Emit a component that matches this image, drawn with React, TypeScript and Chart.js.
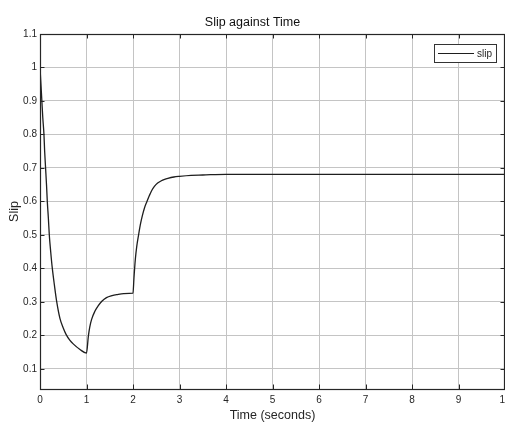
import React, { useEffect, useRef } from "react";
import { Chart, registerables } from "chart.js";

Chart.register(...registerables);

const timeSeconds = [
  0, 0.02, 0.04, 0.06, 0.085, 0.1, 0.12, 0.14, 0.157, 0.18, 0.2, 0.23, 0.265, 0.31, 0.36, 0.43, 0.5, 0.56, 0.64,
  0.72, 0.86, 1.0,
  1.04, 1.07, 1.11, 1.18, 1.25, 1.33, 1.43, 1.55, 1.65, 1.8, 2.0,
  2.02, 2.05, 2.08, 2.12, 2.16, 2.2, 2.25, 2.3, 2.35, 2.4, 2.46, 2.53, 2.6, 2.68, 2.75, 2.88, 3.0, 3.25, 3.5, 4.0,
  5.0, 6.0, 7.0, 8.0, 9.0, 10.0,
];
const slipValues = [
  1.0, 0.95, 0.9, 0.85, 0.8, 0.75, 0.7, 0.65, 0.6, 0.55, 0.5, 0.45, 0.4, 0.35, 0.3, 0.25, 0.222, 0.203, 0.186,
  0.174, 0.158, 0.147,
  0.198, 0.225, 0.248, 0.272, 0.288, 0.302, 0.313, 0.319, 0.322, 0.325, 0.326,
  0.37, 0.427, 0.465, 0.5, 0.532, 0.557, 0.582, 0.6, 0.617, 0.632, 0.645, 0.655, 0.661, 0.666, 0.669, 0.673, 0.675,
  0.678, 0.679, 0.681,
  0.681, 0.681, 0.681, 0.681, 0.681, 0.681,
];
const xTickValues = [0, 1, 2, 3, 4, 5, 6, 7, 8, 9, 10];
const yTickValues = [0.1, 0.2, 0.3, 0.4, 0.5, 0.6, 0.7, 0.8, 0.9, 1, 1.1];
const seriesLabel = "slip";
const chartTitle = "Slip against Time";
const xAxisTitle = "Time (seconds)";
const yAxisTitle = "Slip";

const FONT = "'Liberation Sans', Arial, Helvetica, sans-serif";
const AXIS_COLOR = "#262626";

const boxAndLegendPlugin = {
  id: "boxAndLegend",
  afterDatasetsDraw(chart: any) {
    const { ctx, chartArea } = chart;
    const { left, right, top, bottom } = chartArea;
    const xs = chart.scales.x;
    const ys = chart.scales.y;
    ctx.save();
    ctx.strokeStyle = AXIS_COLOR;
    ctx.lineWidth = 1;
    const tl = 4.5;
    ctx.beginPath();
    xs.ticks.forEach((t: any) => {
      const px = Math.round(xs.getPixelForValue(t.value)) + 0.5;
      ctx.moveTo(px, bottom);
      ctx.lineTo(px, bottom - tl);
      ctx.moveTo(px, top);
      ctx.lineTo(px, top + tl);
    });
    ys.ticks.forEach((t: any) => {
      const py = Math.round(ys.getPixelForValue(t.value)) + 0.5;
      ctx.moveTo(left, py);
      ctx.lineTo(left + tl, py);
      ctx.moveTo(right, py);
      ctx.lineTo(right - tl, py);
    });
    ctx.stroke();
    ctx.lineWidth = 1.2;
    ctx.strokeRect(left + 0.5, top + 0.5, right - left - 1, bottom - top);

    // legend
    const ds = chart.data.datasets[0];
    const bw = 62;
    const bh = 18;
    const bx = right - 9 - bw;
    const by = top + 10;
    ctx.fillStyle = "#ffffff";
    ctx.fillRect(bx, by, bw, bh);
    ctx.strokeStyle = "#333333";
    ctx.lineWidth = 1;
    ctx.strokeRect(bx + 0.5, by + 0.5, bw, bh);
    ctx.strokeStyle = ds.borderColor;
    ctx.lineWidth = 1.2;
    ctx.beginPath();
    ctx.moveTo(bx + 4, by + bh / 2 + 0.5);
    ctx.lineTo(bx + 40, by + bh / 2 + 0.5);
    ctx.stroke();
    ctx.fillStyle = AXIS_COLOR;
    ctx.font = `10px ${FONT}`;
    ctx.textBaseline = "middle";
    ctx.textAlign = "left";
    ctx.fillText(ds.label, bx + 43, by + bh / 2 + 1);
    ctx.restore();
  },
};

export default function App() {
  const canvasRef = useRef<HTMLCanvasElement | null>(null);

  useEffect(() => {
    const canvas = canvasRef.current;
    if (!canvas) return;
    const points = timeSeconds.map((t, i) => ({ x: t, y: slipValues[i] }));
    const chart = new Chart(canvas, {
      type: "line",
      data: {
        datasets: [
          {
            label: seriesLabel,
            data: points,
            borderColor: "#1e1e1e",
            borderWidth: 1.3,
            pointRadius: 0,
            cubicInterpolationMode: "monotone",
            fill: false,
          },
        ],
      },
      options: {
        animation: false,
        responsive: false,
        devicePixelRatio: 1,
        layout: { padding: { left: 0, right: 35, top: 0, bottom: 0 } },
        plugins: {
          legend: { display: false },
          tooltip: { enabled: false },
          title: {
            display: true,
            text: chartTitle,
            color: "#111111",
            font: { family: FONT, size: 12.5, weight: "normal" },
            padding: { top: 15.5, bottom: 3.5 },
          },
        },
        scales: {
          x: {
            type: "linear",
            min: 0,
            max: 10,
            afterFit: (s: any) => {
              s.height = 35;
            },
            afterBuildTicks: (s: any) => {
              s.ticks = xTickValues.map((v) => ({ value: v }));
            },
            ticks: {
              color: AXIS_COLOR,
              font: { family: FONT, size: 10 },
              padding: 5,
              maxRotation: 0,
              autoSkip: false,
              callback: (v: any) => String(v),
            },
            grid: { color: "#c4c4c4", lineWidth: 1, drawTicks: false },
            border: { display: false },
            title: {
              display: true,
              text: xAxisTitle,
              color: AXIS_COLOR,
              font: { family: FONT, size: 12.5 },
              padding: { top: 0, bottom: 1 },
            },
          },
          y: {
            type: "linear",
            min: 0.04,
            max: 1.1,
            afterFit: (s: any) => {
              s.width = 40;
            },
            afterBuildTicks: (s: any) => {
              s.ticks = yTickValues.map((v) => ({ value: v }));
            },
            ticks: {
              color: AXIS_COLOR,
              font: { family: FONT, size: 10 },
              padding: 3,
              autoSkip: false,
              callback: (v: any) => String(Math.round(Number(v) * 10) / 10),
            },
            grid: { color: "#c4c4c4", lineWidth: 1, drawTicks: false },
            border: { display: false },
            title: {
              display: true,
              text: yAxisTitle,
              color: AXIS_COLOR,
              font: { family: FONT, size: 12.5 },
              padding: { top: 7, bottom: 0 },
            },
          },
        },
      },
      plugins: [boxAndLegendPlugin],
    });
    return () => {
      chart.destroy();
    };
  }, []);

  return (
    <div
      style={{
        position: "fixed",
        left: 0,
        top: 0,
        width: 505,
        height: 424,
        overflow: "hidden",
        background: "#ffffff",
      }}
    >
      <canvas ref={canvasRef} width={540} height={424} style={{ display: "block" }} />
    </div>
  );
}
